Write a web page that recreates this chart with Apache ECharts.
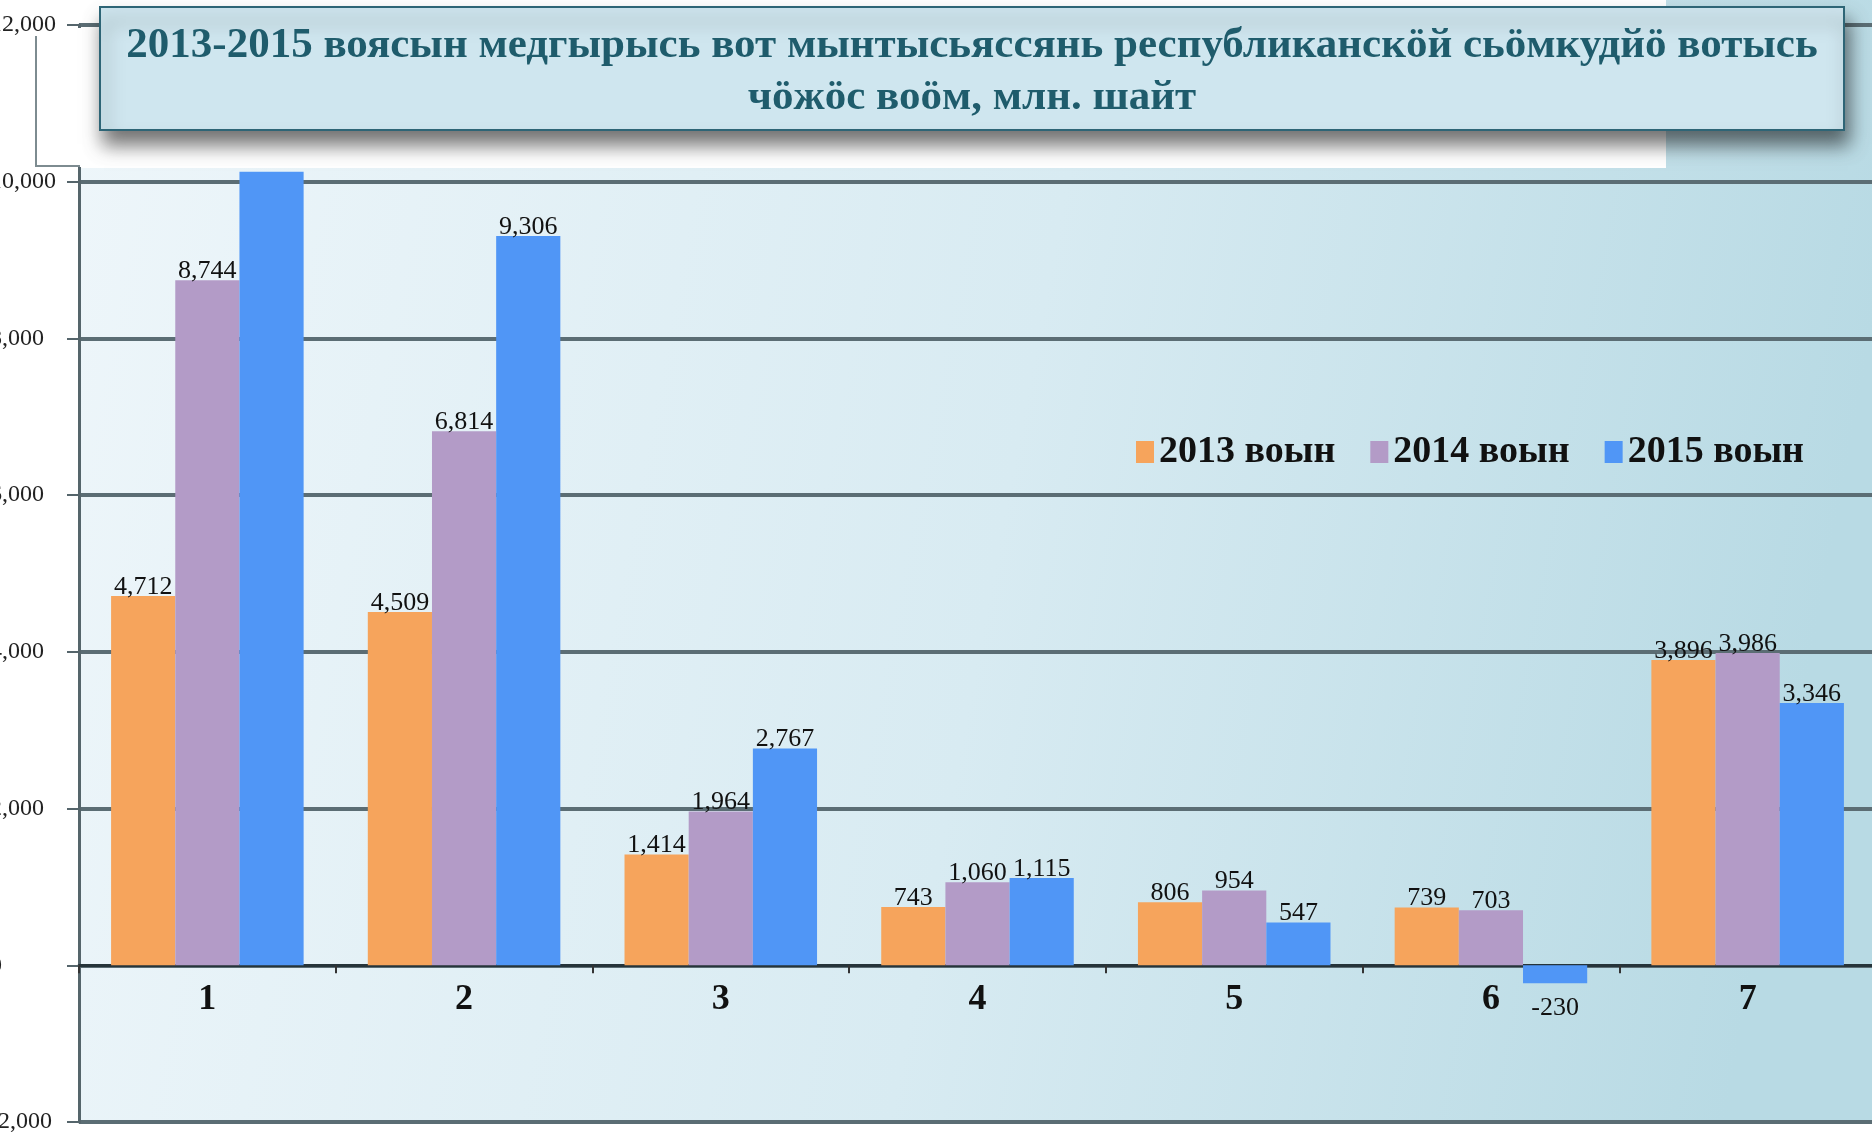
<!DOCTYPE html>
<html>
<head>
<meta charset="utf-8">
<title>Вотысь чӧжӧс</title>
<script src="https://cdn.jsdelivr.net/npm/echarts@6/dist/echarts.min.js"></script>
<style>
  html, body { margin: 0; padding: 0; background: #ffffff; }
  #chart { width: 1872px; height: 1136px; }
</style>
</head>
<body>
<div id="chart"></div>
<script>
// ===== Data =====
var categories = ['1', '2', '3', '4', '5', '6', '7'];
var seriesNames = ['2013 воын', '2014 воын', '2015 воын'];
var values2013 = [4712, 4509, 1414, 743, 806, 739, 3896];
var values2014 = [8744, 6814, 1964, 1060, 954, 703, 3986];
var values2015 = [10128, 9306, 2767, 1115, 547, -230, 3346];
var yTicks = { min: -2000, max: 12000, step: 2000 };
var titleText = '2013-2015 воясын медгырысь вот мынтысьяссянь республиканскӧй сьӧмкудйӧ вотысь\nчӧжӧс воӧм, млн. шайт';

(function() {
  'use strict';

  var serif = '"Liberation Serif", "DejaVu Serif", serif';
  var colors = ['#f6a45c', '#b39bc7', '#5096f6'];
  var gridLine = '#5b6d74';

  // plot box (px)
  var gridTop = 25, gridBottom = 14, chartHeight = 1136;
  var plotHeight = chartHeight - gridTop - gridBottom;
  // category labels sit under the zero line, not under the bottom of the plot
  var zeroOffset = (0 - yTicks.min) / (yTicks.max - yTicks.min) * plotHeight;

  function fmt(v) {
    return Number(v).toLocaleString('en-US');
  }

  // negative bars get their label underneath, like the original
  function barData(values) {
    return values.map(function(v) {
      if (v < 0) {
        return { value: v, label: { position: 'bottom', distance: 12 } };
      }
      return v;
    });
  }

  function barSeries(name, values, color) {
    return {
      name: name,
      type: 'bar',
      data: barData(values),
      barGap: '0%',
      barCategoryGap: '25%',
      itemStyle: { color: color },
      label: {
        show: true,
        position: 'top',
        distance: -4,
        color: '#111111',
        fontFamily: serif,
        fontSize: 26,
        // the label above 10,000 is hidden under the title box in the source
        formatter: function(p) { return p.value > 10000 ? '' : fmt(p.value); }
      }
    };
  }

  var chart = echarts.init(document.getElementById('chart'), null, { renderer: 'canvas' });
  chart.setOption({
    animation: false,
    backgroundColor: '#ffffff',
    title: {
      text: titleText,
      left: 972,
      top: 20,
      textAlign: 'center',
      padding: 0,
      z: 20,
      textStyle: {
        fontFamily: serif,
        fontWeight: 'bold',
        fontSize: 43,
        lineHeight: 52,
        color: '#1f5c6c'
      }
    },
    legend: {
      data: seriesNames,
      left: 1131,
      top: 428,
      icon: 'rect',
      itemWidth: 18,
      itemHeight: 22,
      itemGap: 35,
      textStyle: { fontFamily: serif, fontWeight: 'bold', fontSize: 38, color: '#111111' }
    },
    grid: {
      left: 79, right: -4, top: gridTop, bottom: gridBottom,
      containLabel: false,
      outerBoundsMode: 'none'
    },
    xAxis: {
      type: 'category',
      data: categories,
      axisLine: { onZero: true, lineStyle: { color: '#26343a', width: 3 } },
      axisTick: { show: true, length: 8, lineStyle: { color: '#333333', width: 2 } },
      axisLabel: {
        margin: 16 - zeroOffset,
        color: '#111111',
        fontFamily: serif,
        fontWeight: 'bold',
        fontSize: 36
      },
      splitLine: { show: false }
    },
    yAxis: {
      type: 'value',
      min: yTicks.min,
      max: yTicks.max,
      interval: yTicks.step,
      axisLine: { show: true, lineStyle: { color: '#55656b', width: 3 } },
      axisTick: { show: true, length: 12, lineStyle: { color: '#55656b', width: 2 } },
      axisLabel: {
        align: 'left',
        margin: 89,
        color: '#222222',
        fontFamily: serif,
        fontSize: 24,
        formatter: function(v) { return fmt(v); }
      },
      splitLine: { show: true, lineStyle: { color: gridLine, width: 4 } }
    },
    graphic: [
      // plot background
      {
        type: 'rect', z: -10, silent: true,
        shape: { x: 79, y: 0, width: 1793, height: 1122 },
        style: {
          fill: { type: 'linear', x: 0, y: 0, x2: 1, y2: 0.3, colorStops: [
            { offset: 0, color: '#eef6fa' },
            { offset: 0.55, color: '#d8ebf2' },
            { offset: 1, color: '#b8dae4' }
          ]}
        }
      },
      // white panel behind the title
      {
        type: 'rect', z: -9, silent: true,
        shape: { x: 79, y: 0, width: 1587, height: 168 },
        style: { fill: '#ffffff' }
      },
      // hide axis line above the panel
      {
        type: 'rect', z: 5, silent: true,
        shape: { x: 76, y: 28, width: 24, height: 139 },
        style: { fill: '#ffffff' }
      },
      {
        type: 'polyline', z: 6, silent: true,
        shape: { points: [[36, 36], [36, 166], [80, 166]] },
        style: { stroke: '#7d8b90', lineWidth: 2, fill: null }
      },
      // title box
      {
        type: 'rect', z: 10, silent: true,
        shape: { x: 100, y: 7, width: 1744, height: 123 },
        style: {
          fill: '#cfe6ef',
          stroke: '#2e6576',
          lineWidth: 2,
          shadowBlur: 18,
          shadowOffsetY: 14,
          shadowOffsetX: 4,
          shadowColor: 'rgba(0,0,0,0.55)'
        }
      }
    ],
    series: [
      barSeries(seriesNames[0], values2013, colors[0]),
      barSeries(seriesNames[1], values2014, colors[1]),
      barSeries(seriesNames[2], values2015, colors[2])
    ]
  });
  window.addEventListener('resize', function() { chart.resize(); });
})();
</script>
</body>
</html>
